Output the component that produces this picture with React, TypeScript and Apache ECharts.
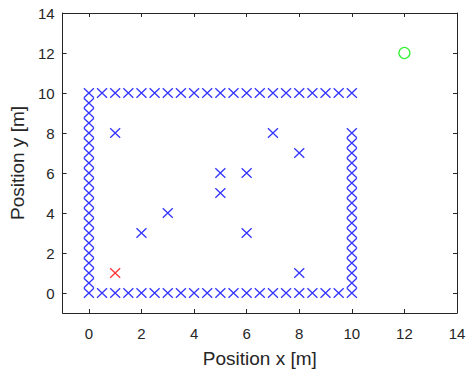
import React, { useEffect, useRef } from "react";
import * as echarts from "echarts";

// Walls of the area (blue x markers)
const leftWallX = 0;
const leftWallY = [0, 0.5, 1, 1.5, 2, 2.5, 3, 3.5, 4, 4.5, 5, 5.5, 6, 6.5, 7, 7.5, 8, 8.5, 9, 9.5, 10];
const rightWallX = 10;
const rightWallY = [0, 0.5, 1, 1.5, 2, 2.5, 3, 3.5, 4, 4.5, 5, 5.5, 6, 6.5, 7, 7.5, 8];
const bottomWallY = 0;
const bottomWallX = [0.5, 1, 1.5, 2, 2.5, 3, 3.5, 4, 4.5, 5, 5.5, 6, 6.5, 7, 7.5, 8, 8.5, 9, 9.5];
const topWallY = 10;
const topWallX = [0.5, 1, 1.5, 2, 2.5, 3, 3.5, 4, 4.5, 5, 5.5, 6, 6.5, 7, 7.5, 8, 8.5, 9, 9.5, 10];

// Interior obstacles
const obstacleX = [1, 2, 3, 5, 5, 6, 6, 7, 8, 8];
const obstacleY = [8, 3, 4, 6, 5, 6, 3, 8, 7, 1];

// Start (red x) and goal (green o)
const startPoint = [1, 1];
const goalPoint = [12, 12];

const tickValues = [0, 2, 4, 6, 8, 10, 12, 14];
const axisMin = -1;
const axisMax = 14;

const FONT = "'Liberation Sans', Arial, Helvetica, sans-serif";
const AXIS_COLOR = "#262626";
const CROSS = "path://M0,0L10,10M0,10L10,0";

export default function App() {
  const ref = useRef<HTMLDivElement>(null);

  useEffect(() => {
    if (!ref.current) return;
    const chart = echarts.init(ref.current, null, { renderer: "svg" });

    const obstacles: number[][] = [];
    leftWallY.forEach((y) => obstacles.push([leftWallX, y]));
    rightWallY.forEach((y) => obstacles.push([rightWallX, y]));
    bottomWallX.forEach((x) => obstacles.push([x, bottomWallY]));
    topWallX.forEach((x) => obstacles.push([x, topWallY]));
    obstacleX.forEach((x, i) => obstacles.push([x, obstacleY[i]]));

    const baseX = (position: "bottom" | "top", show: boolean) => ({
      type: "value",
      position,
      min: axisMin,
      max: axisMax,
      name: show ? "Position x [m]" : "",
      nameLocation: "middle",
      nameGap: 36,
      nameTextStyle: { fontFamily: FONT, fontSize: 19, color: AXIS_COLOR },
      axisLine: { show: true, onZero: false, lineStyle: { color: AXIS_COLOR, width: 1 } },
      axisTick: { show: true, inside: true, length: 4, customValues: tickValues, lineStyle: { color: AXIS_COLOR } },
      axisLabel: { show, customValues: tickValues, margin: 13, fontFamily: FONT, fontSize: 15, color: AXIS_COLOR },
      splitLine: { show: false },
    });
    const baseY = (position: "left" | "right", show: boolean) => ({
      type: "value",
      position,
      min: axisMin,
      max: axisMax,
      name: show ? "Position y [m]" : "",
      nameLocation: "middle",
      nameGap: 33,
      nameTextStyle: { fontFamily: FONT, fontSize: 19, color: AXIS_COLOR },
      axisLine: { show: true, onZero: false, lineStyle: { color: AXIS_COLOR, width: 1 } },
      axisTick: { show: true, inside: true, length: 4, customValues: tickValues, lineStyle: { color: AXIS_COLOR } },
      axisLabel: { show, customValues: tickValues, margin: 8, fontFamily: FONT, fontSize: 15, color: AXIS_COLOR },
      splitLine: { show: false },
    });

    chart.setOption({
      animation: false,
      backgroundColor: "#ffffff",
      grid: { left: 62, right: 17, top: 13, bottom: 58, containLabel: false },
      xAxis: [baseX("bottom", true), baseX("top", false)],
      yAxis: [baseY("left", true), baseY("right", false)],
      series: [
        {
          type: "scatter",
          xAxisIndex: 0,
          yAxisIndex: 0,
          data: obstacles,
          symbol: CROSS,
          symbolSize: [10, 9.5],
          symbolKeepAspect: false,
          itemStyle: { color: "transparent", borderColor: "#0000ff", borderWidth: 1.25 },
        },
        {
          type: "scatter",
          xAxisIndex: 0,
          yAxisIndex: 0,
          data: [startPoint],
          symbol: CROSS,
          symbolSize: [10, 9.5],
          symbolKeepAspect: false,
          itemStyle: { color: "transparent", borderColor: "#ff0000", borderWidth: 1.25 },
        },
        {
          type: "scatter",
          xAxisIndex: 0,
          yAxisIndex: 0,
          data: [goalPoint],
          symbol: "circle",
          symbolSize: 11,
          itemStyle: { color: "transparent", borderColor: "#00ee00", borderWidth: 1.3 },
        },
      ],
    });

    return () => chart.dispose();
  }, []);

  return (
    <div
      ref={ref}
      style={{ position: "fixed", left: 0, top: 0, width: 474, height: 373, background: "#fff" }}
    />
  );
}
